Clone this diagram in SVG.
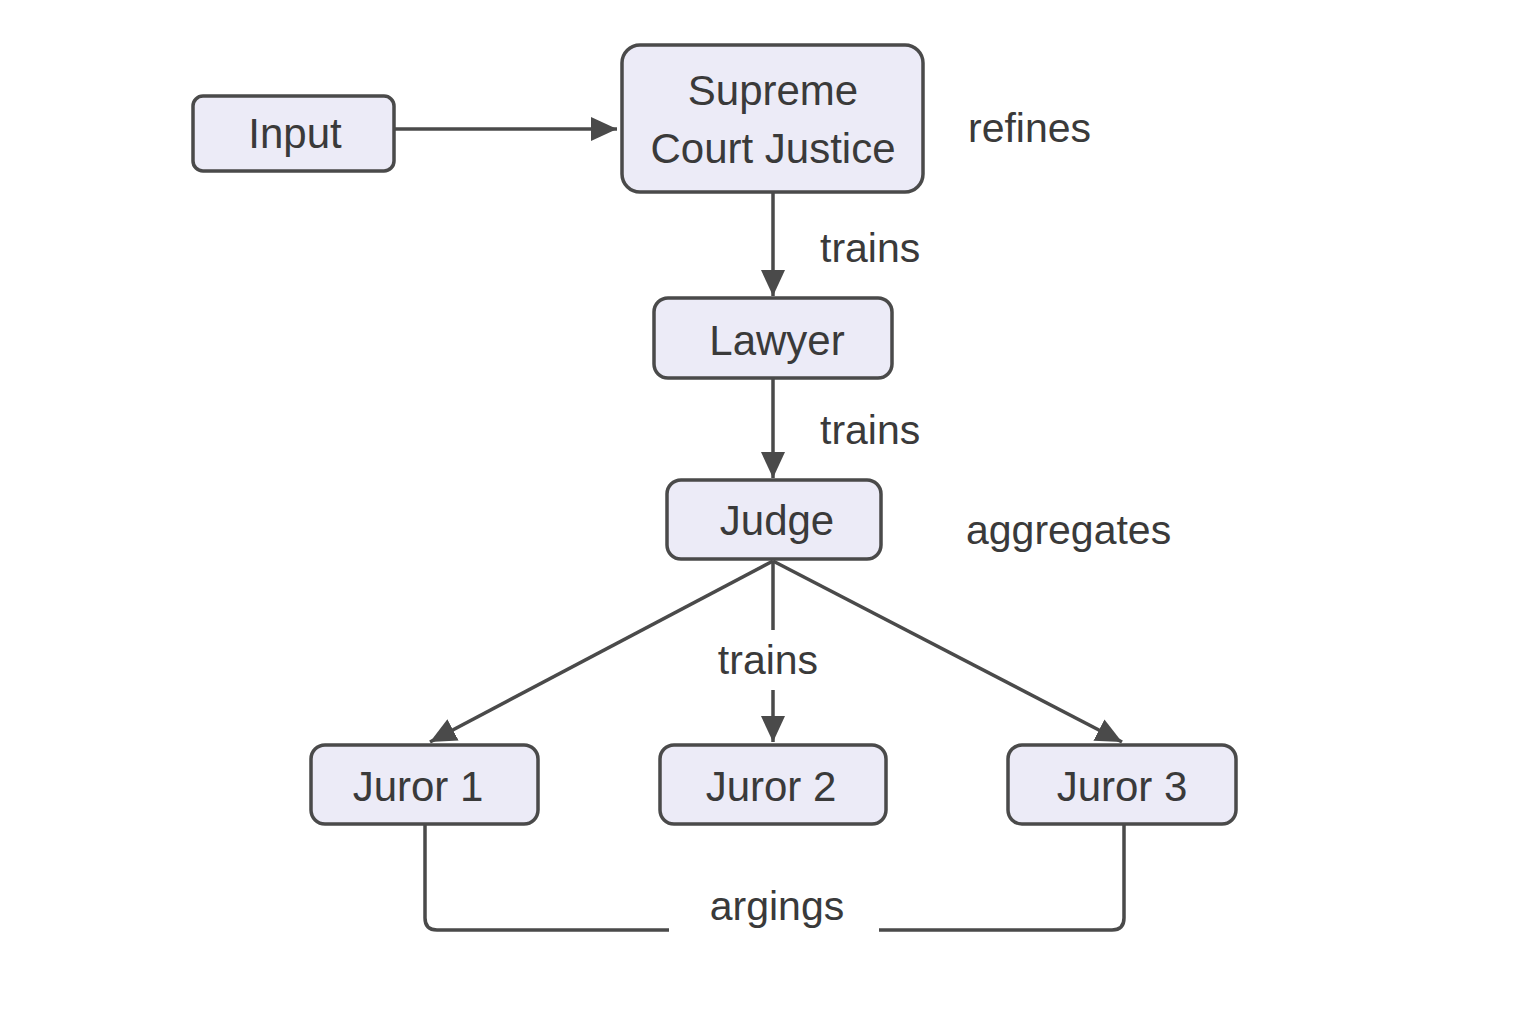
<svg xmlns="http://www.w3.org/2000/svg" width="1536" height="1024" viewBox="0 0 1536 1024">
<style>
.node rect{fill:#ECEBF7;stroke:#4A4A4A;stroke-width:3.5}
.node text{font-family:"Liberation Sans",Arial,sans-serif;font-size:42px;fill:#3A3A3A;text-anchor:middle;dominant-baseline:central}
.lbl{font-family:"Liberation Sans",Arial,sans-serif;font-size:41px;fill:#3A3A3A}
.edge{fill:none;stroke:#4A4A4A;stroke-width:3.5}
</style>
<defs>
<marker id="ah" viewBox="0 0 26 24" refX="26" refY="12" markerWidth="26" markerHeight="24" markerUnits="userSpaceOnUse" orient="auto">
<path d="M0,0 L26,12 L0,24 z" fill="#4A4A4A"/>
</marker>
</defs>
<rect width="1536" height="1024" fill="#FFFFFF"/>
<g id="connectors">
<line class="edge" x1="394" y1="129" x2="617" y2="129" marker-end="url(#ah)"/>
<line class="edge" x1="773" y1="192" x2="773" y2="296" marker-end="url(#ah)"/>
<line class="edge" x1="773" y1="378" x2="773" y2="478" marker-end="url(#ah)"/>
<line class="edge" x1="773" y1="561" x2="430" y2="742" marker-end="url(#ah)"/>
<line class="edge" x1="773" y1="561" x2="773" y2="630"/>
<line class="edge" x1="773" y1="690" x2="773" y2="742" marker-end="url(#ah)"/>
<line class="edge" x1="773" y1="561" x2="1122" y2="742" marker-end="url(#ah)"/>
<path class="edge" d="M425,824 V918 Q425,930 437,930 H669"/>
<path class="edge" d="M879,930 H1112 Q1124,930 1124,918 V824"/>
<text class="lbl" x="968" y="142">refines</text>
<text class="lbl" x="820" y="262">trains</text>
<text class="lbl" x="820" y="444">trains</text>
<text class="lbl" x="966" y="544">aggregates</text>
<text class="lbl" x="768" y="674" text-anchor="middle">trains</text>
<text class="lbl" x="777" y="920" text-anchor="middle">argings</text>
</g>
<g id="input" class="node"><rect x="193" y="96" width="201" height="75" rx="10"/><text x="295" y="133">Input</text></g>
<g id="supreme" class="node"><rect x="622" y="45" width="301" height="147" rx="18"/><text x="773" y="90">Supreme</text><text x="773" y="148">Court Justice</text></g>
<g id="lawyer" class="node"><rect x="654" y="298" width="238" height="80" rx="14"/><text x="777" y="340">Lawyer</text></g>
<g id="judge" class="node"><rect x="667" y="480" width="214" height="79" rx="14"/><text x="777" y="520">Judge</text></g>
<g id="juror1" class="node"><rect x="311" y="745" width="227" height="79" rx="14"/><text x="418" y="786">Juror 1</text></g>
<g id="juror2" class="node"><rect x="660" y="745" width="226" height="79" rx="14"/><text x="771" y="786">Juror 2</text></g>
<g id="juror3" class="node"><rect x="1008" y="745" width="228" height="79" rx="14"/><text x="1122" y="786">Juror 3</text></g>
</svg>
